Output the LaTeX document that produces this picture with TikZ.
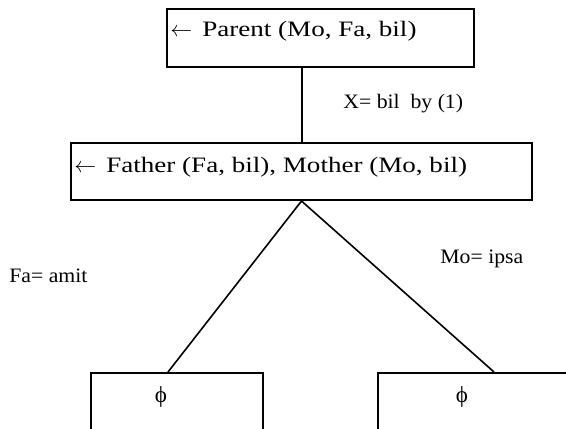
\documentclass[tikz,border=0pt]{standalone}
\usepackage{fontspec}
\setmainfont{Liberation Serif}
\newfontfamily\widefont[FakeStretch=1.23]{Liberation Serif}
\newfontfamily\bindfont[FakeStretch=1.06]{Liberation Serif}
\usetikzlibrary{calc}

\begin{document}
\begin{tikzpicture}[x=.5pt,y=-.5pt,
  goalbox/.style={draw,line width=1pt,inner sep=0pt},
  goaltext/.style={anchor=base west,inner sep=0pt,font=\widefont\fontsize{11pt}{13pt}\selectfont},
  bindtext/.style={anchor=base west,inner sep=0pt,font=\bindfont\fontsize{10.25pt}{12pt}\selectfont}]
\clip (0,0) rectangle (566,428);
% goals
\node[goalbox,minimum width=153.5pt,minimum height=29pt] (parent) at (320.5,38) {};
\node[goaltext] (parenttext) at ($(parent.north west)+(4,28)$) {$\leftarrow$\hspace{5pt}Parent (Mo, Fa, bil)};
\node[goalbox,minimum width=230.5pt,minimum height=28.5pt] (father) at (301.5,171.5) {};
\node[goaltext] (fathertext) at ($(father.north west)+(4,30)$) {$\leftarrow$\hspace{5pt}Father (Fa, bil), Mother (Mo, bil)};
\node[goalbox,minimum width=86pt,minimum height=53.5pt] (leftgoal) at (177,426.5) {};
\node[goalbox,minimum width=106pt,minimum height=53.5pt] (rightgoal) at (484,426.5) {};
\node[font=\fontsize{11.5pt}{13pt}\selectfont] (leftphi) at (161,397) {ϕ};
\node[font=\fontsize{11.5pt}{13pt}\selectfont] (rightphi) at (462,397) {ϕ};
% branches
\draw[line width=1pt] (father.north) -- (parent.south -| father.north);
\draw[line width=.8pt] ([xshift=-4.5pt]leftgoal.north) -- (father.south) -- ([xshift=5pt]rightgoal.north);
% bindings
\node[bindtext] (xbind) at (343,108) {X= bil\ \ by (1)};
\node[bindtext] (fabind) at (9,282) {Fa= amit};
\node[bindtext] (mobind) at (440,263) {Mo= ipsa};
\end{tikzpicture}
\end{document}
